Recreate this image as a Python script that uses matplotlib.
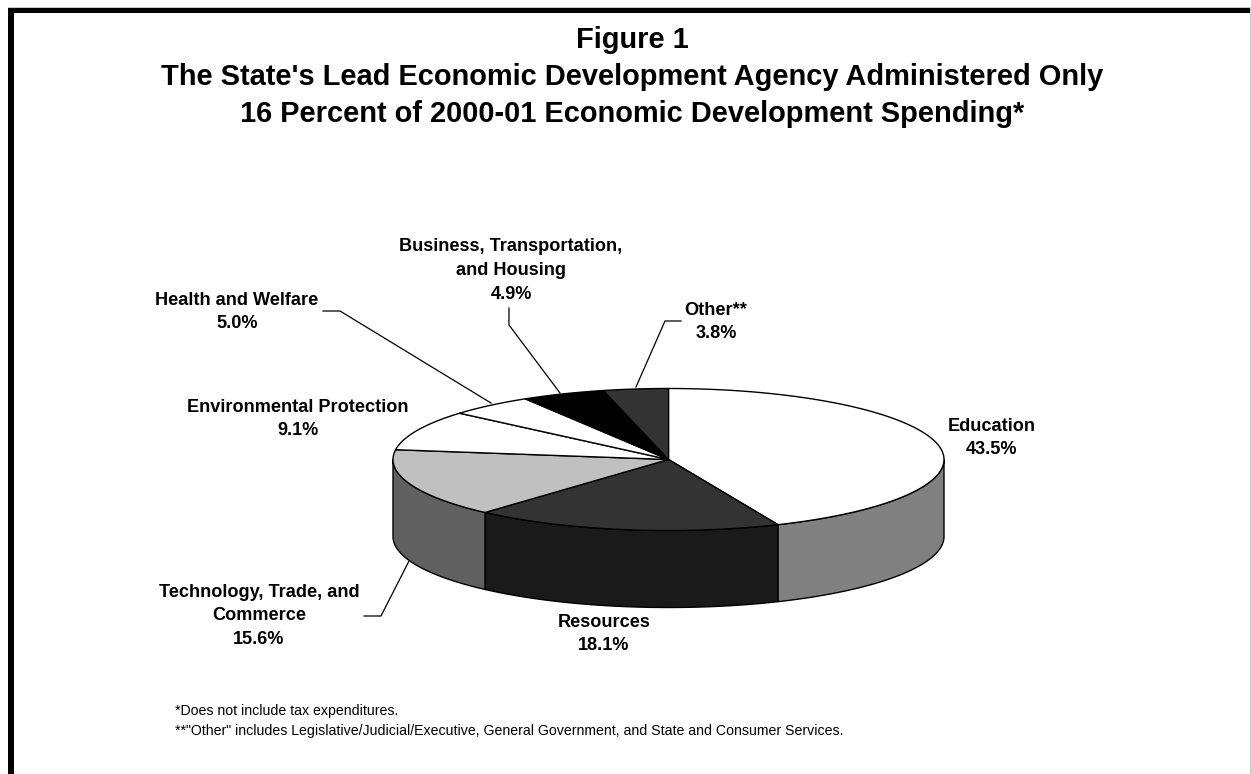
import numpy as np
from matplotlib import pyplot as plt
from matplotlib.patches import Rectangle

plt.rcParams['font.family'] = ['Liberation Sans', 'DejaVu Sans']

categories = ["Education", "Resources", "Technology, Trade, and\nCommerce",
              "Environmental Protection", "Health and Welfare",
              "Business, Transportation,\nand Housing", "Other**"]
shares = [43.5, 18.1, 15.6, 9.1, 5.0, 4.9, 3.8]
top_colors = ['#ffffff', '#333333', '#c0c0c0', '#ffffff', '#ffffff', '#000000', '#333333']
side_colors = ['#808080', '#1a1a1a', '#606060', None, None, None, None]

title_lines = ["Figure 1",
               "The State's Lead Economic Development Agency Administered Only",
               "16 Percent of 2000-01 Economic Development Spending*"]
notes = ["*Does not include tax expenditures.",
         '**"Other" includes Legislative/Judicial/Executive, General Government, and State and Consumer Services.']

# label centre, in pixels from the top left
label_pos = [(992, 438), (604, 634), (259, 616), (297.5, 419), (237, 312), (511, 270.5), (716, 322)]
# leader lines for the labels that sit away from the pie
leaders = {2: [(364, 616), (381, 616), (409, 561)],
           4: [(323, 311), (340, 311), (491, 403)],
           5: [(509, 308), (509, 325), (560, 393)],
           6: [(681, 321), (665, 321), (636, 387)]}

cx, cy = 668.5, 459.5
rx, ry = 275.5, 71
depth = 77

fig = plt.figure(figsize=(12.51, 7.74), dpi=100)
ax = fig.add_axes([0, 0, 1, 1])
ax.set_xlim(0, 1251)
ax.set_ylim(774, 0)
ax.axis('off')

# frame: heavy rule along the top and left only
ax.add_patch(Rectangle((8, 7), 1243, 6, fc='black', ec='none'))
ax.add_patch(Rectangle((8, 7), 6, 767, fc='black', ec='none'))
ax.add_patch(Rectangle((8, 6.5), 1243, 1, fc='#c8c8c8', ec='none'))
ax.add_patch(Rectangle((1250, 7), 1, 767, fc='#c8c8c8', ec='none'))


def rim(a0, a1):
    # angles run clockwise from twelve o'clock
    t = np.radians(np.linspace(a0, a1, 150))
    return cx + rx * np.sin(t), cy - ry * np.cos(t)


edges = 3.6 * np.concatenate([[0], np.cumsum(shares)])

# side wall, front half of the rim only
for i, col in enumerate(side_colors):
    a0 = max(edges[i], 90)
    a1 = min(edges[i + 1], 270)
    if col is None or a0 >= a1:
        continue
    x, y = rim(a0, a1)
    ax.fill(np.r_[x, x[::-1]], np.r_[y, y[::-1] + depth], fc=col, ec='black', lw=1, joinstyle='round')

# top face
for i, col in enumerate(top_colors):
    x, y = rim(edges[i], edges[i + 1])
    ax.fill(np.r_[cx, x], np.r_[cy, y], fc=col, ec='black', lw=1, joinstyle='round')

for i, pts in leaders.items():
    xs, ys = zip(*pts)
    ax.plot(xs, ys, color='black', lw=0.9)

for name, val, (x, y) in zip(categories, shares, label_pos):
    ax.text(x, y, f"{name}\n{val:.1f}%", ha='center', va='center', fontsize=13.1,
            fontweight='bold', linespacing=1.51, color='black')

for line, y in zip(title_lines, [48, 85, 122]):
    ax.text(632, y, line, ha='center', va='baseline', fontsize=20.9, fontweight='bold', color='black')

for line, y in zip(notes, [711, 731]):
    ax.text(175, y, line, ha='left', va='center', fontsize=10.15, color='black')

fig.savefig('out.png', dpi=100)
